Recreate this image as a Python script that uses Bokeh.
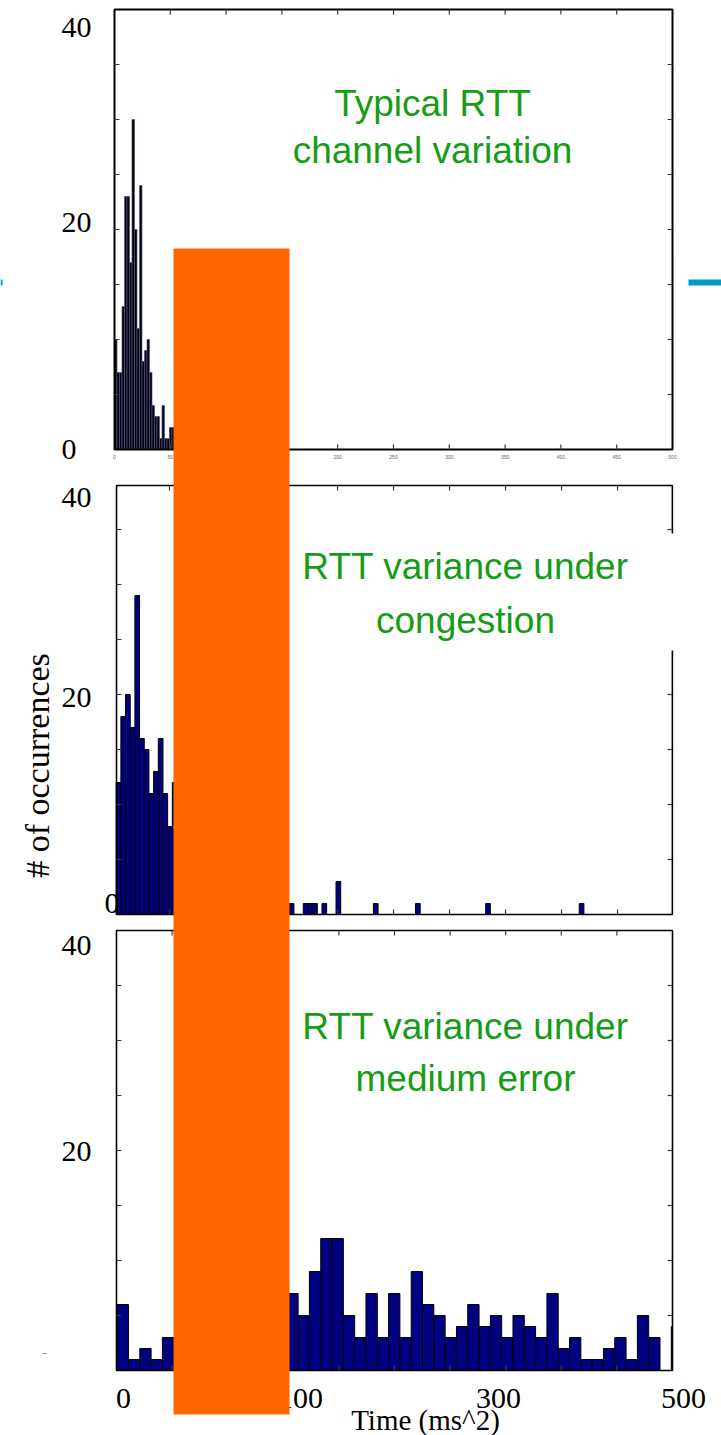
import numpy as np
from bokeh.plotting import figure
from bokeh.models import Range1d
from bokeh.core.properties import value
from bokeh.embed import file_html
from bokeh.resources import INLINE

W, H = 721, 1435

# ---------------- data ----------------
# panel 1: typical RTT channel variation (narrow bins)
p1_counts = [10, 7, 7, 13, 23, 23, 17, 30, 20, 11, 24, 8, 9, 10, 7, 4, 3, 3, 1, 4,
             1, 1, 2, 2, 1, 2, 0, 1, 1, 0, 0, 1, 0, 1, 0, 0, 1, 0, 0, 0, 1, 0, 0, 0, 0, 1]
p1_bin_start = 0.0
p1_bin_width = 2.24

# panel 2: RTT variance under congestion (100 bins)
p2_counts = [12, 18, 20, 17, 29, 16, 15, 11, 13, 16, 11, 8, 12,
             7, 9, 6, 5, 6, 4, 3, 4, 3, 2, 3, 2, 1, 2, 1, 1, 0, 1, 1, 0, 1, 0, 0, 1,
             1, 0, 0, 1, 1, 1, 0, 1, 0, 0, 3, 0, 0, 0, 0, 0, 0, 0, 1,
             0, 0, 0, 0, 0, 0, 0, 0, 1, 0, 0, 0, 0, 0, 0, 0, 0, 0, 0, 0, 0, 0, 0, 1,
             0, 0, 0, 0, 0, 0, 0, 0, 0, 0, 0, 0, 0, 0, 0, 0, 0, 0, 0, 1]
p2_bin_start = 2.4
p2_bin_width = 4.176

# panel 3: RTT variance under medium error
p3_counts = [6, 1, 2, 1, 3, 3, 2, 4, 5, 3, 6, 4, 5, 7, 6,
             7, 5, 9, 12, 12, 5, 3, 7, 3, 7, 3, 9, 6, 5, 3, 4, 6, 4, 5, 3, 5, 4, 3, 7,
             2, 3, 1, 1, 2, 3, 1, 5, 3, 0, 4]
p3_bin_start = 0.6
p3_bin_width = 10.17

x_ticks = [0, 50, 100, 150, 200, 250, 300, 350, 400, 450, 500]
y_ticks = [0, 5, 10, 15, 20, 25, 30, 35, 40]
p1_xtick_labels = ["0", "50", "100", "150", "200", "250", "300", "350", "400", "450", "500"]

titles = [["Typical RTT", "channel variation"],
          ["RTT variance under", "congestion"],
          ["RTT variance under", "medium error"]]
y_labels = [["40", "20", "0"], ["40", "20", "0"], ["40", "20"]]
x_labels = ["0", "100", "300", "500"]
x_title = "Time (ms^2)"
y_title = "# of occurrences"

# ---------------- layout (pixels) ----------------
panels = [
    dict(x0=114.0, sx=558 / 500, y0=449.0, sy=11.0, xlo=0.0, xhi=500.0, ytop=40.0),
    dict(x0=113.0, sx=560 / 500, y0=914.0, sy=11.0, xlo=2.7, xhi=499.0, ytop=39.0),
    dict(x0=116.0, sx=556 / 500, y0=1370.0, sy=11.0, xlo=0.0, xhi=500.0, ytop=40.0),
]

p = figure(width=W, height=H, x_range=Range1d(0, W), y_range=Range1d(H, 0),
           output_backend="svg", toolbar_location=None, min_border=0,
           x_axis_location=None, y_axis_location=None,
           outline_line_color=None, background_fill_color="white",
           border_fill_color="white")
p.xgrid.visible = False
p.ygrid.visible = False

for i, g in enumerate(panels):
    xr = Range1d(start=(0 - g["x0"]) / g["sx"], end=(W - g["x0"]) / g["sx"])
    yr = Range1d(start=(g["y0"] - H) / g["sy"], end=g["y0"] / g["sy"])
    p.extra_x_ranges[f"x{i}"] = xr
    p.extra_y_ranges[f"y{i}"] = yr

hist = [(p1_counts, p1_bin_start, p1_bin_width, "#00001e", "#555566", 0.7),
        (p2_counts, p2_bin_start, p2_bin_width, "#000080", "#000000", 1.0),
        (p3_counts, p3_bin_start, p3_bin_width, "#000080", "#000000", 1.0)]

for i, (g, (counts, b0, bw, fc, lc, lw)) in enumerate(zip(panels, hist)):
    xn, yn = f"x{i}", f"y{i}"
    counts = np.array(counts, dtype=float)
    left = b0 + bw * np.arange(len(counts))
    right = np.minimum(left + bw, g["xhi"])
    keep = counts > 0
    p.quad(left=left[keep], right=right[keep], bottom=0, top=counts[keep],
           fill_color=fc, line_color=lc, line_width=lw,
           x_range_name=xn, y_range_name=yn)
    # frame
    p.quad(left=[g["xlo"]], right=[g["xhi"]], bottom=[0], top=[g["ytop"]],
           fill_color=None, line_color="black", line_width=2 if i == 0 else 1.6,
           x_range_name=xn, y_range_name=yn)
    xt = [t for t in x_ticks if g["xlo"] < t < g["xhi"]]
    yt = [t for t in y_ticks if 0 < t < g["ytop"]]
    tk = dict(length=5, length_units="screen", line_color="#3a3a3a", line_width=1.2,
              x_range_name=xn, y_range_name=yn)
    p.ray(x=[g["xlo"]] * len(yt), y=yt, angle=0, **tk)
    p.ray(x=[g["xhi"]] * len(yt), y=yt, angle=np.pi, **tk)
    p.ray(x=xt, y=[0] * len(xt), angle=np.pi / 2, **tk)
    p.ray(x=xt, y=[g["ytop"]] * len(xt), angle=-np.pi / 2, **tk)
    if i == 0:
        p.text(x=x_ticks, y=[-0.65] * len(x_ticks), text=p1_xtick_labels,
               text_font=value("Liberation Sans"), text_font_size="5px",
               text_color="#666666", text_align="center", text_baseline="middle",
               x_range_name=xn, y_range_name=yn)

# white text box over panel 2 right edge
p.quad(left=[292], right=[690], top=[533], bottom=[650], fill_color="white", line_color=None)

# green titles
green = "#169c16"
title_pos = [(432, 103, 150), (465, 566, 620), (465, 1026, 1078)]
for (cx, y1, y2), lines in zip(title_pos, titles):
    p.text(x=[cx, cx], y=[y1, y2], text=lines, text_font=value("Liberation Sans"),
           text_font_size="37px", text_color=green, text_align="center",
           text_baseline="middle")

# y value labels (slide text)
serif = value("Liberation Serif")
ylab_pos = [[(61, 27), (61, 222), (61, 449)],
            [(61, 497), (61, 697), (104, 903)],
            [(61, 945), (61, 1151)]]
for pos, labs in zip(ylab_pos, y_labels):
    p.text(x=[a for a, b in pos], y=[b for a, b in pos], text=labs, text_font=serif,
           text_font_size="30px", text_color="black", text_align="left",
           text_baseline="middle")
p.text(x=[44], y=[1352], text=["-"], text_font=serif, text_font_size="12px",
       text_color="#777777", text_align="center", text_baseline="middle")

# x value labels and axis titles
p.text(x=[123, 300, 498, 683], y=[1398] * 4, text=x_labels, text_font=serif,
       text_font_size="30px", text_color="black", text_align="center",
       text_baseline="middle")
p.text(x=[425], y=[1419], text=[x_title], text_font=serif, text_font_size="29px",
       text_color="black", text_align="center", text_baseline="middle")
p.text(x=[37], y=[765], text=[y_title], text_font=serif, text_font_size="34px",
       text_color="black", text_align="center", text_baseline="middle", angle=np.pi / 2)

# slide decorations: orange block and blue line stubs
p.quad(left=[173], right=[289], top=[248], bottom=[1414], fill_color="#ff6600",
       line_color=None)
p.quad(left=[688, 0], right=[721, 2], top=[279, 279], bottom=[285, 285],
       fill_color="#0099cc", line_color=None)

open("out.html", "w").write(file_html(p, INLINE))
